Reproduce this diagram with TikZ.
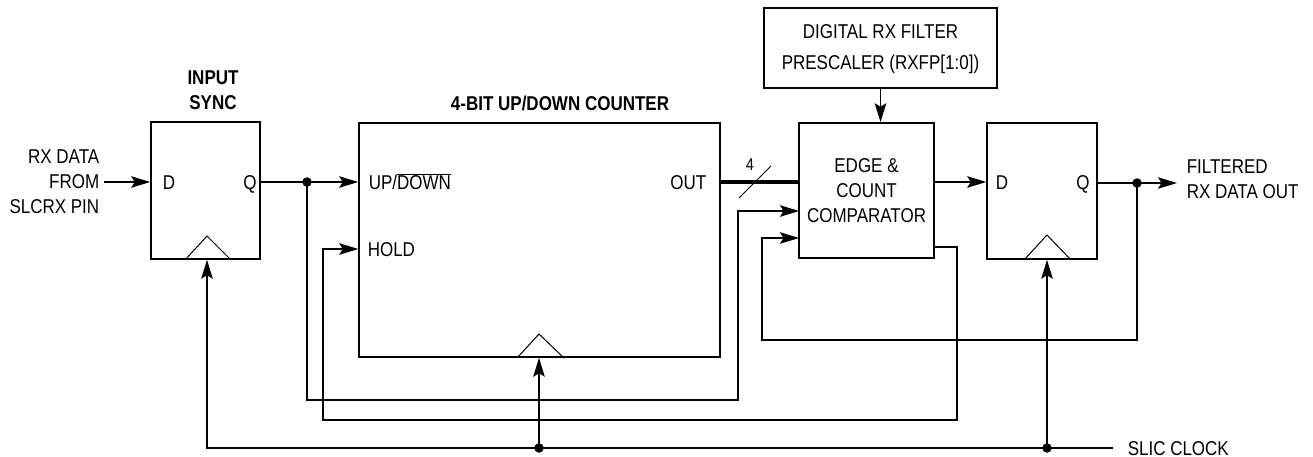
\documentclass[tikz,border=0pt]{standalone}
\usepackage{fontspec}
\setmainfont{Liberation Sans}[FakeStretch=0.85]
\usetikzlibrary{arrows.meta,calc}
\begin{document}
\begin{tikzpicture}[x=1pt,y=-1pt, font=\fontsize{20}{25}\selectfont,
  line width=1.5pt,
  box/.style={draw, line width=1.5pt, rectangle, inner sep=0pt},
  lbl/.style={inner sep=0pt, text height=14.3pt, text depth=0pt},
  blbl/.style={lbl, font=\fontsize{20}{25}\selectfont\bfseries},
  mlbl/.style={inner sep=0pt, align=center},
  clk/.style={line width=1pt},
  arr/.style={-{Stealth[length=19pt,width=11.5pt,inset=3.5pt]}},
  dot/.style={circle, fill, inner sep=0pt, minimum size=9.5pt},
  bus/.style={line width=3.5pt},
]
\useasboundingbox (0,0) rectangle (1313,457);

% boxes
\node[box, minimum width=109pt, minimum height=137pt] (sync) at (205.5,190.5) {};
\node[box, minimum width=361pt, minimum height=234pt] (cnt) at (539.5,240) {};
\node[box, minimum width=135pt, minimum height=135pt] (cmp) at (866.5,190.5) {};
\node[box, minimum width=233pt, minimum height=80pt] (pre) at (880.5,48) {};
\node[box, minimum width=110pt, minimum height=136pt] (ff) at (1042,191) {};

% clock triangles
\draw[clk] (185,260) -- (207,236) -- (231,260);
\draw[clk] (517,358) -- (539,334) -- (564,358);
\draw[clk] (1024,260) -- (1047,235) -- (1071,260);

% labels
\node[lbl] (syncD) at (169,182) {D};
\node[lbl] (syncQ) at (250,182) {Q};
\node[mlbl, font=\fontsize{20}{25}\selectfont\bfseries] (synct) at (213,90.5) {INPUT\\SYNC};
\node[mlbl, align=right, anchor=east] (rxin) at (100,182) {RX DATA\\FROM\\SLCRX PIN};
\node[blbl] (cntt) at (560,103) {4-BIT UP/DOWN COUNTER};
\node[lbl, anchor=west] (updn) at (368,182) {UP/$\overline{\mbox{DOWN}}$};
\node[lbl, anchor=west] (hold) at (367,249) {HOLD};
\node[lbl, anchor=east] (out) at (707,182) {OUT};
\node[mlbl] (cmpt) at (866.5,191) {EDGE \&\\COUNT\\COMPARATOR};
\node[mlbl, font=\fontsize{20}{31}\selectfont] (pret) at (880.5,49.5) {DIGITAL RX FILTER\\PRESCALER (RXFP[1:0])};
\node[lbl] (ffD) at (1002,182) {D};
\node[lbl] (ffQ) at (1083,182) {Q};
\node[mlbl, align=left, anchor=west] (fout) at (1186,179.5) {FILTERED\\RX DATA OUT};
\node[lbl, anchor=west] (slic) at (1127,448) {SLIC CLOCK};
\node[lbl, font=\fontsize{17}{20}\selectfont, text height=12pt] (four) at (750,165) {4};

% junctions and bend points
\node[dot] (d1) at (307,182) {};
\node[dot] (d2) at (1137,183) {};
\node[dot] (d3) at (539,448) {};
\node[dot] (d4) at (1047,448) {};
\coordinate (r1) at (738,400);
\coordinate (r2) at (762,340);
\coordinate (r3) at (957,420);
\coordinate (r4) at (323,420);
\coordinate (c0) at (207,448);
\coordinate (cmpA) at (799,211);
\coordinate (cmpB) at (799,238);
\coordinate (cmpC) at (934,247);

% connectors
\draw[arr, shorten <=4pt] (rxin.east) -- (sync.west |- rxin.east);
\draw (sync.east |- syncQ) -- (d1.center);
\draw[arr] (d1.center) -- (cnt.west |- d1);
\draw[arr] (d1.center) |- (r1) |- (cmpA);
\draw[bus] (cnt.east |- out) -- (cmp.west |- out);
\draw[line width=1pt] (739,198) -- (771,166);
\draw[arr] (pre.south) -- (pre.south |- cmp.north);
\draw[arr] (cmp.east |- ffD) -- (ff.west |- ffD);
\draw (ff.east |- d2) -- (d2.center);
\draw[arr, shorten >=9pt] (d2.center) -- (fout.west |- d2);
\draw[arr] (d2.center) |- (r2) |- (cmpB);
\draw[arr] (cmpC) -| (r3) -- (r4) |- (cnt.west |- hold);
\draw[arr, shorten <=14pt] (slic.west) -- (c0) -- (c0 |- sync.south);
\draw[arr] (d3.center) -- (d3 |- cnt.south);
\draw[arr] (d4.center) -- (d4 |- ff.south);
\end{tikzpicture}
\end{document}
